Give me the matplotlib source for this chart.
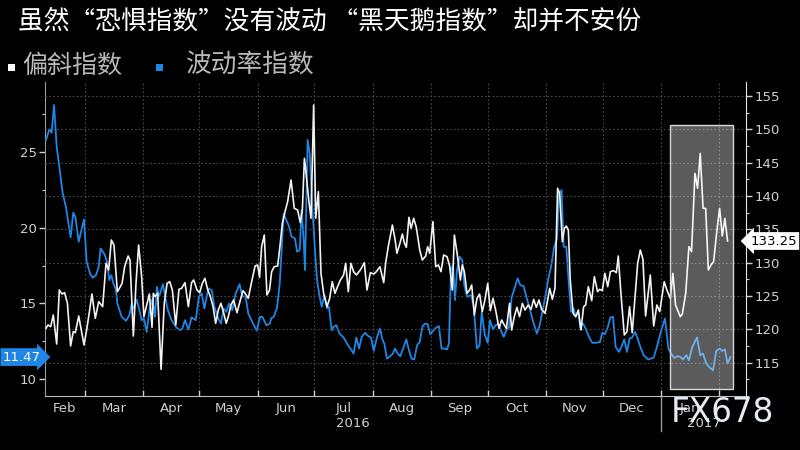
import numpy as np
import pandas as pd
import matplotlib
matplotlib.use('Agg')
import matplotlib.pyplot as plt
import matplotlib.dates as mdates
import matplotlib.transforms as mtransforms
from matplotlib.patches import Rectangle
from matplotlib.ticker import MultipleLocator, FixedLocator, FixedFormatter, NullFormatter

plt.rcParams['font.family'] = ['DejaVu Sans', 'Noto Sans CJK SC']
CJK = ['Noto Sans CJK SC', 'DejaVu Sans']

title = '虽然“恐惧指数”没有波动 “黑天鹅指数”却并不安份'
legend_labels = ['偏斜指数', '波动率指数']
start_date = '2016-02-09'
end_day = 372.1
month_names = ['Feb', 'Mar', 'Apr', 'May', 'Jun', 'Jul', 'Aug', 'Sep', 'Oct', 'Nov', 'Dec', 'Jan']
year_names = ['2016', '2017']

# VIX (left axis), days since start_date
vix_days = [0.5, 2.3, 3.5, 4.8, 6.2, 7.6, 9.4, 11.1, 13.6, 15.0, 16.1, 17.9, 20.7, 22.1, 23.9, 25.3, 27.1, 28.5, 29.5, 31.8,
            33.1, 34.1, 35.2, 36.3, 37.7, 38.4, 40.7, 43.0, 44.8, 46.0, 47.2, 48.7, 50.1, 51.3, 52.5, 54.0, 55.4, 57.1,
            58.4, 59.4, 60.5, 62.6, 64.8, 65.5, 67.2, 69.7, 71.8, 72.9, 74.3, 76.1, 77.8, 80.0, 81.7, 83.2, 84.6, 86.7, 88.5, 89.9,
            92.0, 93.4, 94.8, 96.2, 97.7, 99.4, 101.2, 103.3, 104.7, 106.5, 107.9, 110.0, 112.4, 114.1, 115.4, 117.5, 119.4,
            120.0, 121.4, 123.1, 124.6, 126.0, 126.7, 127.7, 129.5, 130.9, 132.7, 133.8, 135.2, 136.2, 137.3, 138.0, 139.4, 140.5, 141.9, 143.3, 144.4,
            145.8, 146.9, 148.3, 149.7, 150.7, 152.2, 153.2, 154.6, 156.4, 158.5, 160.3, 162.1, 163.8, 165.3, 166.7, 168.1, 169.9, 171.6, 173.0, 174.5,
            176.2, 177.8,
            179.1, 180.1, 181.5, 183.3, 184.7, 185.8, 187.2, 188.6, 190.4, 191.8, 193.2, 194.6, 196.0, 197.5, 198.9, 200.3, 201.7, 203.1, 204.5, 206.3,
            207.7, 209.1, 210.5, 212.0, 213.4, 214.4, 215.5, 216.6, 217.6, 218.7, 220.1, 221.5, 222.6, 224.0, 226.1, 227.5, 229.3, 230.7, 231.8, 233.5,
            235.0, 236.2,
            237.8, 239.2, 240.6, 242.0, 243.5, 244.9, 246.3, 247.7, 249.5, 250.9, 252.3, 254.1, 255.5, 257.3, 259.4, 261.1, 262.6, 264.0, 265.7, 267.2,
            268.6, 270.3, 271.8, 272.8, 274.2, 275.3, 276.7, 277.8, 279.2, 280.6, 281.7, 283.1, 284.1, 285.6, 287.0, 288.7, 290.5, 292.6, 294.6,
            295.8, 297.2, 298.7, 300.1, 301.5, 302.9, 304.7, 306.1, 307.5, 308.9, 310.3, 311.7, 313.2, 314.6, 316.0, 317.8, 320.2, 323.1, 324.8, 326.6,
            329.1, 330.9, 332.3, 334.0, 335.8, 337.2, 338.6, 340.4, 341.8, 343.6, 346.1, 347.8, 349.3, 351.0, 352.8, 354.6, 356.3, 358.1, 359.5, 360.9,
            362.3, 363.8]
vix_values = [25.77, 26.47, 26.25, 28.08, 25.33, 24.01, 22.25, 21.37, 19.35, 20.98, 20.71, 19.07, 20.54, 17.75, 16.98, 16.69, 16.87, 17.42, 18.63, 18.19,
              17.64, 16.54, 16.87, 16.32, 15.88, 15.00, 14.12, 13.86, 14.23, 15.00, 14.67, 15.26, 14.56, 13.90, 14.01, 13.13, 14.56, 15.33,
              14.12, 16.10, 15.44, 16.27, 14.78, 14.45, 13.90, 13.42, 13.24, 13.35, 13.90, 13.29, 14.08, 13.90, 15.44, 15.66, 14.67, 15.99, 15.88, 14.78,
              14.01, 13.68, 14.67, 14.45, 15.00, 14.56, 15.66, 16.27, 15.48, 15.44, 14.34, 13.79, 13.20, 14.12, 14.12, 13.57, 13.68,
              14.01, 14.12, 14.67, 16.32, 19.40, 20.93, 20.60, 20.10, 19.40, 19.29, 18.41, 18.52, 21.15, 19.18, 17.20, 25.77, 24.89, 21.37, 18.52, 16.54,
              15.44, 14.78, 15.55, 14.67, 14.78, 13.24, 13.46, 13.57, 13.02, 12.76, 12.36, 12.03, 11.70, 12.76, 12.03, 12.80, 13.07, 12.85, 12.76, 11.88,
              12.76, 13.35,
              12.63, 12.36, 11.37, 11.53, 11.70, 12.03, 11.70, 11.53, 12.14, 12.63, 11.92, 11.37, 11.31, 12.25, 12.47, 13.46, 13.68, 13.64, 12.98, 13.24,
              13.42, 13.51, 12.03, 12.03, 11.97, 12.36, 17.20, 17.53, 15.22, 17.20, 18.08, 17.86, 16.21, 15.44, 15.55, 14.89, 12.03, 12.25, 14.45, 12.91,
              12.41, 13.90,
              13.29, 13.57, 13.64, 13.24, 12.80, 13.24, 13.46, 15.40, 16.10, 16.65, 16.21, 16.14, 15.44, 14.67, 13.68, 13.02, 13.57, 14.45, 15.55, 16.65,
              17.42, 18.74, 19.29, 22.25, 22.47, 18.74, 18.74, 16.76, 14.45, 14.67, 14.12, 14.45, 13.42, 13.68, 13.35, 12.80, 12.41, 12.41, 12.47,
              13.07, 12.98, 13.42, 14.08, 14.12, 12.14, 11.81, 12.19, 12.63, 11.81, 12.69, 12.76, 13.13, 12.69, 12.14, 11.59, 11.31, 11.44, 12.14, 13.02,
              14.01, 12.03, 11.70, 11.42, 11.53, 11.48, 11.31, 11.59, 11.26, 12.14, 12.76, 11.59, 11.70, 11.04, 10.78, 10.60, 11.88, 12.03, 11.88, 11.97,
              11.04, 11.47]

# SKEW (right axis), days since start_date
skew_days = [0.5, 1.6, 3.0, 4.4, 6.2, 7.6, 9.0, 10.4, 11.9, 13.6, 15.0, 16.1, 17.9, 20.7, 22.1, 23.5, 24.9, 26.7, 28.5, 30.6,
             32.4, 33.8, 35.2, 36.6, 38.4, 39.5, 40.9, 42.3, 44.1, 45.1, 46.9, 48.3, 49.7, 51.3, 52.5, 54.0, 55.4, 56.8, 57.5,
             58.4, 59.8, 61.6, 63.3, 64.8, 66.2, 67.6, 69.4, 71.1, 72.5, 74.3, 76.1, 77.8, 78.9, 80.7, 82.1, 83.5, 84.9, 86.3, 87.8,
             89.2, 90.6, 92.0, 93.4, 94.8, 96.2, 97.3, 98.7, 100.1, 101.9, 103.7, 105.1, 106.2, 107.9, 109.7, 111.5, 112.9, 113.9, 115.0, 116.4,
             117.8,
             119.2, 120.3, 121.7, 123.5, 124.7, 126.0, 127.4, 128.8, 130.6, 132.3, 134.1, 135.5, 136.6, 137.7, 138.4, 140.1, 141.2, 142.6, 143.7, 145.1,
             146.5, 147.9, 149.7, 151.1, 152.5, 153.9, 155.3, 156.8, 158.5, 159.6, 161.0, 162.4, 163.8, 165.3, 167.4, 169.5, 170.9, 172.7, 174.5, 175.9,
             177.8,
             179.8, 180.8, 182.2, 184.4, 185.8, 186.8, 188.3, 189.7, 190.7, 191.8, 193.2, 194.3, 195.7, 197.1, 198.9, 200.3, 202.1, 203.1, 204.2, 205.9,
             207.4, 208.8, 210.2, 211.6, 213.4, 214.8, 216.2, 217.3, 219.0, 220.5, 221.5, 222.6, 224.0, 225.4, 226.5, 227.9, 229.3, 230.7, 232.1, 233.5,
             235.0,
             236.4, 237.8, 239.2, 241.0, 242.4, 243.8, 244.9, 246.6, 247.7, 249.1, 250.5, 251.9, 253.4, 254.8, 256.5, 258.0, 259.4, 260.8, 262.2, 263.6,
             265.4, 266.5, 267.9, 269.3, 270.7, 272.1, 273.2, 274.6, 275.7, 276.7, 277.8, 278.8, 280.3, 281.7, 283.1, 284.5, 285.9, 287.0, 288.4, 290.2,
             291.6, 293.3,
             294.4, 295.8, 297.2, 298.7, 300.1, 301.8, 303.3, 304.3, 305.7, 307.5, 308.9, 310.3, 311.7, 313.5, 314.6, 316.0, 317.4, 318.8, 321.3, 323.1,
             324.8, 326.3, 328.7, 330.1, 331.9, 333.3, 334.7, 337.2, 338.3, 340.1, 341.8, 343.2, 345.0, 346.4, 347.8, 349.3, 350.7, 352.1, 353.5, 354.9,
             356.7, 358.1, 359.5, 360.9, 362.3]
skew_values = [120.15, 120.65, 120.4, 122.15, 117.8, 125.9, 125.3, 125.5, 123.9, 117.5, 119.65, 119.5, 122.0, 117.65, 119.9, 122.5, 125.3, 121.65, 124.15, 123.4,
               129.9, 128.9, 133.4, 132.65, 125.65, 126.15, 126.9, 129.4, 131.0, 130.4, 119.0, 126.9, 132.65, 127.9, 121.9, 123.65, 125.3, 120.3, 125.4,
               124.9, 125.4, 114.0, 123.9, 126.9, 127.15, 125.9, 120.65, 126.0, 126.15, 127.0, 123.4, 127.0, 127.4, 125.9, 125.5, 126.9, 127.65, 126.0, 124.9,
               123.4, 120.9, 122.9, 123.9, 122.5, 120.9, 121.9, 123.65, 124.4, 122.5, 124.4, 125.8, 125.4, 124.65, 127.15, 129.5, 129.65, 127.8, 132.4, 134.15,
               125.15,
               125.9, 128.65, 129.4, 129.5, 132.4, 135.9, 137.65, 139.15, 142.4, 138.15, 137.9, 136.0, 137.9, 145.65, 143.9, 139.15, 136.65, 153.65, 136.65, 140.65,
               128.4, 125.4, 123.4, 124.65, 127.15, 125.4, 126.4, 127.4, 128.15, 129.9, 125.65, 129.9, 128.65, 128.15, 128.9, 130.0, 125.9, 128.5, 128.3, 128.65,
               129.4,
               127.0, 129.9, 132.4, 135.65, 133.5, 131.4, 132.8, 134.3, 133.0, 132.3, 136.8, 135.15, 136.65, 135.3, 131.9, 130.4, 131.0, 132.4, 131.4, 136.15,
               129.4, 129.65, 128.65, 131.15, 130.9, 129.5, 125.9, 134.15, 130.9, 127.4, 129.65, 128.65, 125.4, 125.9, 126.65, 122.15, 124.65, 125.3, 122.65, 124.4,
               126.9,
               122.8, 124.65, 122.9, 120.15, 121.4, 120.65, 120.15, 123.9, 119.9, 121.9, 123.3, 121.9, 123.9, 122.9, 123.65, 123.0, 124.5, 123.3, 124.4, 123.0,
               122.4, 123.9, 126.15, 124.5, 126.15, 141.15, 140.4, 133.15, 135.15, 135.5, 134.9, 127.4, 122.4, 121.9, 122.9, 119.9, 123.4, 123.65, 126.4, 124.3,
               127.9, 125.65,
               126.0, 125.8, 128.4, 126.4, 128.65, 128.8, 128.5, 131.0, 125.4, 119.15, 119.65, 123.4, 119.5, 125.9, 129.9, 131.9, 130.5, 122.0, 128.15, 120.5,
               123.65, 122.65, 127.15, 125.9, 124.65, 128.4, 123.65, 121.9, 122.3, 125.4, 132.4, 131.65, 143.4, 141.15, 146.4, 138.15, 138.15, 128.9, 129.65, 130.15,
               134.9, 138.15, 134.0, 136.65, 133.25]

# highlighted period (days since start) and its vertical extent on the right axis
box_days = (331.9, 365.2)
box_range = (111.0, 150.7)

BLUE = '#1f86e5'
WHITE = '#f2f2f2'
TICKC = '#d0d0d0'
GRIDC = '#4a4a4a'

start = pd.Timestamp(start_date)
to_date = lambda d: start + pd.to_timedelta(np.asarray(d, dtype=float), unit='D')
vix_dates = to_date(vix_days)
skew_dates = to_date(skew_days)
x0 = start
x1 = start + pd.to_timedelta(end_day, unit='D')

fig = plt.figure(figsize=(8, 4.5), dpi=100, facecolor='black')
ax = fig.add_axes([45 / 800, 1 - 396 / 450, 701 / 800, 314 / 450])
ax.set_facecolor('black')
ax2 = ax.twinx()
ax2.patch.set_visible(False)

ax.plot(vix_dates, vix_values, color=BLUE, lw=1.3, zorder=3)
ax2.plot(skew_dates, skew_values, color=WHITE, lw=1.2, zorder=3)

ax.set_xlim(x0, x1)
ax.set_ylim(8.906, 29.59)
ax2.set_ylim(110.0, 157.1)

# y ticks
ax.yaxis.set_major_locator(FixedLocator([10, 15, 20, 25]))
ax.yaxis.set_minor_locator(MultipleLocator(2.5))
ax2.yaxis.set_major_locator(MultipleLocator(5))
ax2.yaxis.set_minor_locator(MultipleLocator(2.5))
for a in (ax, ax2):
    a.tick_params(axis='y', which='major', colors=TICKC, labelsize=9.5, length=4, width=1, pad=2)
    a.tick_params(axis='y', which='minor', colors=TICKC, length=2.5, width=0.8)
ax2.set_yticks([v for v in range(115, 160, 5)])

# x ticks: month boundaries as ticks, labels centered in each month
month_starts = pd.date_range('2016-03-01', '2017-02-01', freq='MS')
ax.xaxis.set_major_locator(FixedLocator(mdates.date2num(month_starts)))
ax.xaxis.set_major_formatter(NullFormatter())
bounds = [x0] + list(month_starts)
mids = [bounds[i] + (bounds[i + 1] - bounds[i]) / 2 for i in range(len(month_names))]
ax.xaxis.set_minor_locator(FixedLocator(mdates.date2num(mids)))
ax.xaxis.set_minor_formatter(FixedFormatter(month_names))
ax.tick_params(axis='x', which='major', direction='in', colors=TICKC, length=4, width=1)
ax.tick_params(axis='x', which='minor', length=0, colors=TICKC, labelsize=9.5, pad=4)

# grid
ax.grid(axis='x', which='major', color=GRIDC, ls=(0, (1.5, 2)), lw=0.8)
ax2.grid(axis='y', which='major', color=GRIDC, ls=(0, (1.5, 2)), lw=0.8)
ax.set_axisbelow(True)

for a in (ax, ax2):
    a.spines['top'].set_visible(False)
ax.spines['left'].set_color('#9a9a9a')
ax.spines['bottom'].set_color('#bdbdbd')
ax.spines['right'].set_visible(False)
ax2.spines['left'].set_visible(False)
ax2.spines['bottom'].set_visible(False)
ax2.spines['right'].set_color('#e6e6e6')

# year labels
trans = mtransforms.blended_transform_factory(ax.transData, ax.transAxes)
jan17 = pd.Timestamp('2017-01-01')
ax.text(x0 + (jan17 - x0) / 2, -0.086, year_names[0], transform=trans, ha='center', va='center',
        color=TICKC, fontsize=9.5)
ax.text(jan17 + (x1 - jan17) / 2, -0.086, year_names[1], transform=trans, ha='center', va='center',
        color=TICKC, fontsize=9.5)
ax.plot([jan17, jan17], [0, -0.11], transform=trans, color='#9a9a9a', lw=1, clip_on=False)

# highlighted box
bx0 = mdates.date2num(start + pd.to_timedelta(box_days[0], unit='D'))
bx1 = mdates.date2num(start + pd.to_timedelta(box_days[1], unit='D'))
ax2.add_patch(Rectangle((bx0, box_range[0]), bx1 - bx0, box_range[1] - box_range[0],
                        facecolor=(1, 1, 1, 0.36), edgecolor='#d8d8d8', lw=1.0, zorder=5))

# last value tags
tl = mtransforms.blended_transform_factory(ax.transAxes, ax.transData)
ax.text(-0.006, vix_values[-1], f'{vix_values[-1]:.2f}', transform=tl, ha='right', va='center',
        color='white', fontsize=9.5, zorder=10, clip_on=False,
        bbox=dict(boxstyle='rarrow,pad=0.18', fc=BLUE, ec='none'))
tr = mtransforms.blended_transform_factory(ax2.transAxes, ax2.transData)
ax2.text(1.006, skew_values[-1], f'{skew_values[-1]:.2f}', transform=tr, ha='left', va='center',
         color='black', fontsize=9.5, zorder=10, clip_on=False,
         bbox=dict(boxstyle='larrow,pad=0.18', fc='white', ec='none'))

# title and legend
fig.text(18 / 800, 1 - 22 / 450, title, color='white', fontsize=18.5, va='center', ha='left', family=CJK)
fig.patches.append(Rectangle((8 / 800, 1 - 71 / 450), 7 / 800, 7 / 450, transform=fig.transFigure,
                             facecolor='white', edgecolor='none'))
fig.text(22 / 800, 1 - 66 / 450, legend_labels[0], color='#b8b8b8', fontsize=18, va='center', ha='left', family=CJK)
fig.patches.append(Rectangle((156 / 800, 1 - 71 / 450), 7 / 800, 7 / 450, transform=fig.transFigure,
                             facecolor=BLUE, edgecolor='none'))
fig.text(186 / 800, 1 - 66 / 450, legend_labels[1], color='#b8b8b8', fontsize=18.5, va='center', ha='left', family=CJK)

# watermark
fig.text(671 / 800, 1 - 413 / 450, 'FX678', color='#e4ebf3', fontsize=23.5, va='center', ha='left', zorder=20)

fig.savefig('out.png', dpi=100, facecolor='black')
